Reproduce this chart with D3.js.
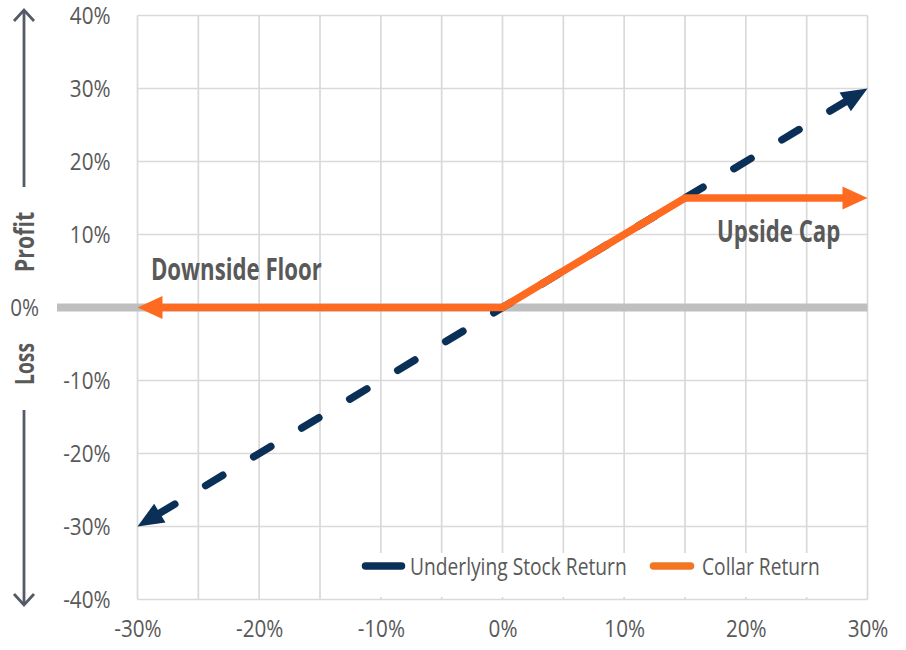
<!DOCTYPE html>
<html>
<head>
<meta charset="utf-8">
<script src="https://cdn.jsdelivr.net/npm/d3@7"></script>
<style>
  body { margin: 0; background: #fff; }
  svg text { font-family: "Open Sans", "Noto Sans", sans-serif; }
</style>
</head>
<body>
<svg id="chart" width="906" height="650"></svg>
<script>
// ---- data ----
const xTickValues = [-30, -20, -10, 0, 10, 20, 30];
const xGridValues = [-30, -25, -20, -15, -10, -5, 0, 5, 10, 15, 20, 25, 30];
const yTickValues = [-40, -30, -20, -10, 0, 10, 20, 30, 40];
const stockReturn = [{x: -30, y: -30}, {x: 30, y: 30}];
const collarReturn = [{x: -30, y: 0}, {x: 0, y: 0}, {x: 15, y: 15}, {x: 30, y: 15}];
const seriesNames = ["Underlying Stock Return", "Collar Return"];

// ---- styles ----
const NAVY = "#0b3057";
const ORANGE = "#ff6a21";
const ORANGE_LEGEND = "#f47524";
const GRID = "#d9d9d9";
const TEXT = "#595959";

// narrow the installed humanist sans to a condensed look
function condense(sel, k) {
  sel.each(function () {
    const w = this.getComputedTextLength();
    d3.select(this).attr("textLength", w * k).attr("lengthAdjust", "spacingAndGlyphs");
  });
  return sel;
}

const svg = d3.select("#chart");
const x = d3.scaleLinear().domain([-30, 30]).range([137.5, 867.5]);
const y = d3.scaleLinear().domain([-40, 40]).range([599.5, 15.5]);

// grid
const grid = svg.append("g");
grid.selectAll("line.v").data(xGridValues).join("line")
  .attr("x1", d => x(d)).attr("x2", d => x(d))
  .attr("y1", y(40)).attr("y2", y(-40))
  .attr("stroke", GRID).attr("stroke-width", 1.7);
grid.selectAll("line.h").data(yTickValues).join("line")
  .attr("x1", x(-30)).attr("x2", x(30))
  .attr("y1", d => y(d)).attr("y2", d => y(d))
  .attr("stroke", GRID).attr("stroke-width", 1.7);

// y axis labels (the 0% label sits left of the extended zero line)
const yAxis = d3.axisLeft(y).tickValues(yTickValues).tickSize(0).tickPadding(27)
  .tickFormat(d => d + "%");
svg.append("g").attr("transform", `translate(${x(-30)},0)`).call(yAxis)
  .call(g => g.select(".domain").remove())
  .call(g => condense(g.selectAll("text").attr("fill", TEXT).attr("font-size", 24)
    .attr("font-family", null), 0.86))
  .call(g => g.selectAll(".tick").filter(d => d === 0).select("text").attr("x", 39 - x(-30)));

// x axis labels
const xAxis = d3.axisBottom(x).tickValues(xTickValues).tickSize(0).tickPadding(20)
  .tickFormat(d => d + "%");
svg.append("g").attr("transform", `translate(0,${y(-40)})`).call(xAxis)
  .call(g => g.select(".domain").remove())
  .call(g => condense(g.selectAll("text").attr("fill", TEXT).attr("font-size", 24)
    .attr("font-family", null), 0.86));

// legend background hides the grid behind it
svg.append("rect").attr("x", 345).attr("y", 553).attr("width", 485).attr("height", 44)
  .attr("fill", "#fff");

// zero line
svg.append("line").attr("x1", 57).attr("x2", x(30))
  .attr("y1", y(0)).attr("y2", y(0))
  .attr("stroke", "#bfbfbf").attr("stroke-width", 8);

// helpers: arrowhead polygon at the end of a pixel segment
function arrowHead(p0, p1, len, half) {
  const dx = p1[0] - p0[0], dy = p1[1] - p0[1];
  const L = Math.hypot(dx, dy), ux = dx / L, uy = dy / L;
  const bx = p1[0] - ux * len, by = p1[1] - uy * len;
  return [[p1[0], p1[1]], [bx - uy * half, by + ux * half], [bx + uy * half, by - ux * half]];
}
function trim(p0, p1, t) {
  const dx = p1[0] - p0[0], dy = p1[1] - p0[1];
  const L = Math.hypot(dx, dy);
  return [p1[0] - dx / L * t, p1[1] - dy / L * t];
}
const line = d3.line();

// underlying stock return: dashed with arrowheads on both ends
const sp = stockReturn.map(d => [x(d.x), y(d.y)]);
svg.append("path").attr("d", line(sp))
  .attr("fill", "none").attr("stroke", NAVY).attr("stroke-width", 7.5)
  .attr("stroke-linecap", "round")
  .attr("stroke-dasharray", "20 36").attr("stroke-dashoffset", 32.5);
[[sp[1], sp[0]], [sp[sp.length - 2], sp[sp.length - 1]]].forEach(([a, b]) => {
  svg.append("polygon").attr("points", arrowHead(a, b, 26, 11).join(" ")).attr("fill", NAVY);
});

// collar return: solid with arrowheads on both ends
const cp = collarReturn.map(d => [x(d.x), y(d.y)]);
const cpTrim = cp.slice();
cpTrim[0] = trim(cp[1], cp[0], 14);
cpTrim[cp.length - 1] = trim(cp[cp.length - 2], cp[cp.length - 1], 14);
svg.append("path").attr("d", line(cpTrim))
  .attr("fill", "none").attr("stroke", ORANGE).attr("stroke-width", 7.5)
  .attr("stroke-linejoin", "miter");
[[cp[1], cp[0]], [cp[cp.length - 2], cp[cp.length - 1]]].forEach(([a, b]) => {
  svg.append("polygon").attr("points", arrowHead(a, b, 25, 11.5).join(" ")).attr("fill", ORANGE);
});

// annotations
condense(svg.append("text").attr("x", x(-28.9)).attr("y", y(3.8))
  .attr("font-size", 30).attr("font-weight", "bold").attr("fill", TEXT)
  .text("Downside Floor"), 0.74);
condense(svg.append("text").attr("x", x(22.7)).attr("y", y(9)).attr("text-anchor", "middle")
  .attr("font-size", 30).attr("font-weight", "bold").attr("fill", TEXT)
  .text("Upside Cap"), 0.74);

// legend
const legend = svg.append("g");
legend.append("line").attr("x1", 365.5).attr("x2", 401.5).attr("y1", 566).attr("y2", 566)
  .attr("stroke", NAVY).attr("stroke-width", 7.5).attr("stroke-linecap", "round");
condense(legend.append("text").attr("x", 410).attr("y", 575).attr("font-size", 24).attr("fill", TEXT)
  .text(seriesNames[0]), 0.8);
legend.append("line").attr("x1", 653.5).attr("x2", 690.5).attr("y1", 566).attr("y2", 566)
  .attr("stroke", ORANGE_LEGEND).attr("stroke-width", 7.5).attr("stroke-linecap", "round");
condense(legend.append("text").attr("x", 702).attr("y", 575).attr("font-size", 24).attr("fill", TEXT)
  .text(seriesNames[1]), 0.8);

// profit / loss direction indicator
const AX = "#545b66";
const ind = svg.append("g").attr("stroke", AX).attr("stroke-width", 2.8).attr("fill", "none");
ind.append("line").attr("x1", 24).attr("x2", 24).attr("y1", 10).attr("y2", 187);
ind.append("polyline").attr("points", "14,21 24,10 34,21");
ind.append("line").attr("x1", 24).attr("x2", 24).attr("y1", 410).attr("y2", 605);
ind.append("polyline").attr("points", "14,594 24,605 34,594");
condense(svg.append("text").attr("transform", "translate(34,242) rotate(-90)")
  .attr("text-anchor", "middle").attr("font-size", 26).attr("font-weight", "bold")
  .attr("fill", TEXT).text("Profit"), 0.82);
condense(svg.append("text").attr("transform", "translate(34,364) rotate(-90)")
  .attr("text-anchor", "middle").attr("font-size", 26).attr("font-weight", "bold")
  .attr("fill", TEXT).text("Loss"), 0.74);
</script>
</body>
</html>
